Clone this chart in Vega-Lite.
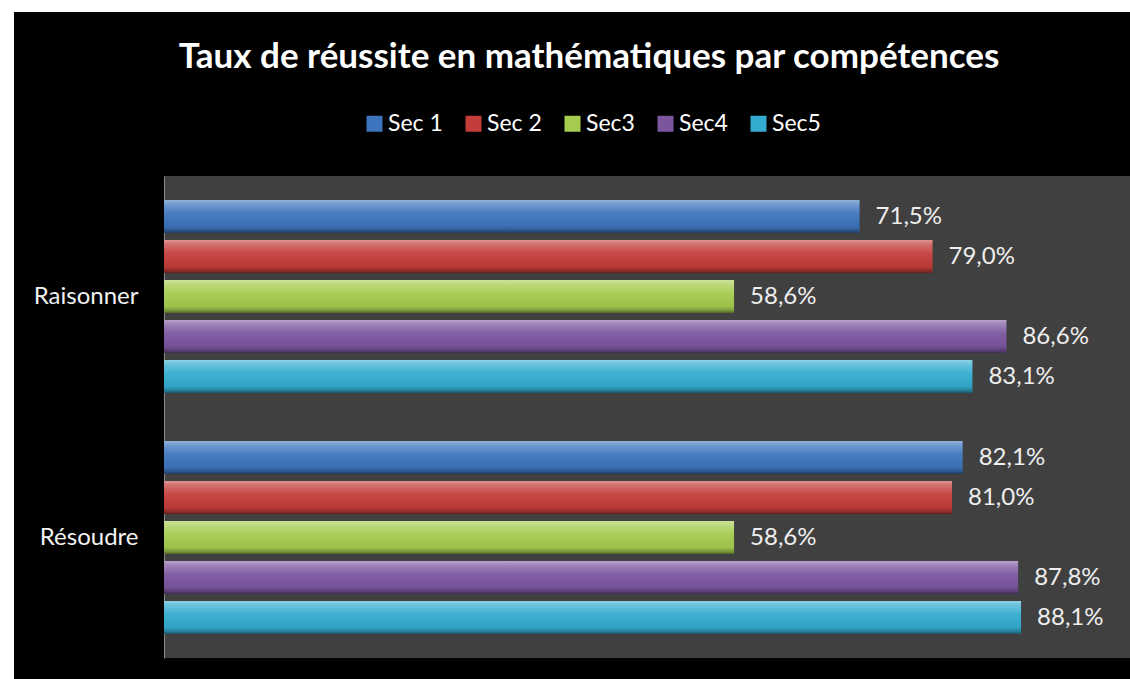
{
  "$schema": "https://vega.github.io/schema/vega-lite/v6.json",
  "background": "#000000",
  "padding": 0,
  "config": {
    "view": {"stroke": null},
    "font": "Lato",
    "locale": {"number": {"decimal": ",", "thousands": " ", "grouping": [3], "currency": ["", " €"]}}
  },
  "align": "none",
  "columns": 2,
  "spacing": 0,
  "resolve": {"legend": {"color": "independent"}},
  "concat": [
    {"width": 14, "height": 12, "view": {"fill": "#ffffff"}, "data": {"values": []}, "mark": "rect"},
    {"width": 1116, "height": 12, "view": {"fill": "#ffffff"}, "data": {"values": []}, "mark": "rect"},
    {"width": 14, "height": 667, "view": {"fill": "#ffffff"}, "data": {"values": []}, "mark": "rect"},
    {
      "width": 966,
      "height": 482,
      "view": {"fill": "#404040"},
      "title": {"text": ["", "Taux de réussite en mathématiques par compétences"], "lineHeight": 28, "color": "#ffffff", "fontSize": 35, "fontWeight": "bold", "font": "Lato", "anchor": "middle", "dx": -58, "offset": 37},
      "data": {"values": [
        {"competence": "Raisonner", "niveau": "Sec 1", "taux": 0.715},
        {"competence": "Raisonner", "niveau": "Sec 2", "taux": 0.790},
        {"competence": "Raisonner", "niveau": "Sec3", "taux": 0.586},
        {"competence": "Raisonner", "niveau": "Sec4", "taux": 0.866},
        {"competence": "Raisonner", "niveau": "Sec5", "taux": 0.831},
        {"competence": "Résoudre", "niveau": "Sec 1", "taux": 0.821},
        {"competence": "Résoudre", "niveau": "Sec 2", "taux": 0.810},
        {"competence": "Résoudre", "niveau": "Sec3", "taux": 0.586},
        {"competence": "Résoudre", "niveau": "Sec4", "taux": 0.878},
        {"competence": "Résoudre", "niveau": "Sec5", "taux": 0.881}
      ]},
      "encoding": {
        "y": {"field": "competence", "type": "nominal", "sort": ["Raisonner", "Résoudre"], "scale": {"paddingInner": 0, "paddingOuter": 0},
          "axis": {"title": null, "ticks": false, "labelPadding": 26, "labelFontSize": 24, "labelColor": "#f2f2f2", "labelFont": "Lato", "domainColor": "#8c8c8c", "domainWidth": 1, "minExtent": 150, "maxExtent": 150, "grid": false}},
        "yOffset": {"field": "niveau", "type": "nominal", "sort": ["Sec 1", "Sec 2", "Sec3", "Sec4", "Sec5"], "scale": {"paddingInner": 0.175, "paddingOuter": 0.6}},
        "x": {"field": "taux", "type": "quantitative", "scale": {"domain": [0, 0.993], "nice": false}, "axis": null}
      },
      "layer": [
        {
          "mark": {"type": "bar"},
          "encoding": {
            "color": {"field": "niveau", "type": "nominal",
              "scale": {"domain": ["Sec 1", "Sec 2", "Sec3", "Sec4", "Sec5"], "range": ["#3d75be", "#c43d3a", "#a5cc4e", "#7b569f", "#33acd0"]},
              "legend": {"orient": "none", "legendX": 199, "legendY": -64, "direction": "horizontal", "columns": 5, "title": null, "labelColor": "#ffffff", "labelFontSize": 23, "labelFont": "Lato", "symbolType": "square", "symbolSize": 256, "symbolStrokeWidth": 0, "columnPadding": 19, "labelOffset": 2, "symbolOpacity": 1}}
          }
        },
        {
          "mark": {"type": "bar", "fill": {"gradient": "linear", "x1": 0, "y1": 0, "x2": 0, "y2": 1, "stops": [
            {"offset": 0, "color": "rgba(255,255,255,0.45)"},
            {"offset": 0.12, "color": "rgba(255,255,255,0.28)"},
            {"offset": 0.4, "color": "rgba(255,255,255,0.06)"},
            {"offset": 0.8, "color": "rgba(0,0,0,0.05)"},
            {"offset": 0.92, "color": "rgba(0,0,0,0.25)"},
            {"offset": 1, "color": "rgba(0,0,0,0.5)"}
          ]}}
        },
        {
          "mark": {"type": "text", "align": "left", "baseline": "middle", "dx": 16, "fontSize": 24, "color": "#eeeeee", "font": "Lato"},
          "encoding": {"text": {"field": "taux", "type": "quantitative", "format": ".1%"}}
        }
      ]
    }
  ]
}
